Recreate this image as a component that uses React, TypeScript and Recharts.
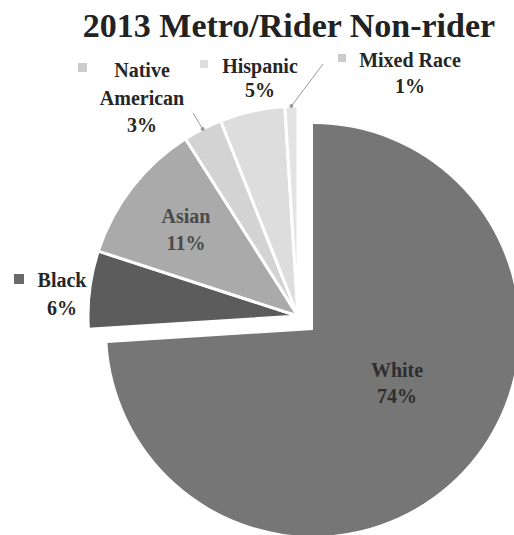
import React from 'react';
import { PieChart, Pie, Cell } from 'recharts';

// ---- data ----
const categories: string[] = ['White', 'Black', 'Asian', 'Native American', 'Hispanic', 'Mixed Race'];
const shares: number[] = [74, 6, 11, 3, 5, 1];
const pctLabels: string[] = ['74%', '6%', '11%', '3%', '5%', '1%'];
const titleText = '2013 Metro/Rider Non-rider';

// ---- styles ----
const fills: string[] = ['#767676', '#5c5c5c', '#aaaaaa', '#d3d3d3', '#dddddd', '#e3e3e3'];
const W = 514;
const H = 535;
const FONT = '"Liberation Serif", "Times New Roman", serif';

type LabelCfg = {
  x: number;
  lines: { text: string; y: number }[];
  marker?: { x: number; y: number; size: number; fill: string };
  leader?: { x: number; y: number };
  color: string;
};

const labelCfg: Record<string, LabelCfg> = {
  White: { x: 397, lines: [{ text: 'White', y: 377 }, { text: '74%', y: 403 }], color: '#2e2e2e' },
  Asian: { x: 186, lines: [{ text: 'Asian', y: 223 }, { text: '11%', y: 250 }], color: '#4a4a4a' },
  Black: {
    x: 62,
    lines: [{ text: 'Black', y: 287 }, { text: '6%', y: 315 }],
    marker: { x: 14, y: 274, size: 10, fill: '#6a6a6a' },
    color: '#262626',
  },
  'Native American': {
    x: 142,
    lines: [{ text: 'Native', y: 77 }, { text: 'American', y: 105 }, { text: '3%', y: 132 }],
    marker: { x: 78, y: 63, size: 9, fill: '#cccccc' },
    leader: { x: 193, y: 113 },
    color: '#262626',
  },
  Hispanic: {
    x: 260,
    lines: [{ text: 'Hispanic', y: 73 }, { text: '5%', y: 97 }],
    marker: { x: 200, y: 60, size: 8, fill: '#dddddd' },
    color: '#262626',
  },
  'Mixed Race': {
    x: 410,
    lines: [{ text: 'Mixed Race', y: 67 }, { text: '1%', y: 93 }],
    marker: { x: 338, y: 54, size: 8, fill: '#cccccc' },
    leader: { x: 323, y: 64 },
    color: '#262626',
  },
};

const data = categories.map((name, i) => ({ name, value: shares[i], pct: pctLabels[i] }));

const RAD = Math.PI / 180;

const makeLabel = (allowed: (name: string) => boolean) => (props: any) => {
  const { index, cx, cy, midAngle, outerRadius } = props;
  const name = categories[index];
  if (!allowed(name)) return null;
  const cfg = labelCfg[name];
  if (!cfg) return null;
  const ex = cx + outerRadius * Math.cos(-midAngle * RAD);
  const ey = cy + outerRadius * Math.sin(-midAngle * RAD);
  return (
    <g key={`lbl-${name}`}>
      {cfg.leader && (
        <g>
          <line x1={cfg.leader.x} y1={cfg.leader.y} x2={ex} y2={ey} stroke="#9a9a9a" strokeWidth={1} />
          <circle cx={ex} cy={ey} r={2} fill="#9a9a9a" />
        </g>
      )}
      {cfg.marker && (
        <rect
          x={cfg.marker.x}
          y={cfg.marker.y}
          width={cfg.marker.size}
          height={cfg.marker.size}
          fill={cfg.marker.fill}
        />
      )}
      {cfg.lines.map((ln, k) => (
        <text
          key={k}
          x={cfg.x}
          y={ln.y}
          textAnchor="middle"
          fontFamily={FONT}
          fontWeight="bold"
          fontSize={20}
          fill={cfg.color}
        >
          {ln.text}
        </text>
      ))}
    </g>
  );
};

export default function App() {
  return (
    <div style={{ position: 'absolute', left: 0, top: 0, width: W, height: H, background: '#ffffff' }}>
      <PieChart width={W} height={H} margin={{ top: 0, right: 0, bottom: 0, left: 0 }}>
        {/* White slice, drawn from its own (offset) centre */}
        <Pie
          data={data}
          dataKey="value"
          nameKey="name"
          cx={313}
          cy={330}
          outerRadius={206}
          startAngle={90}
          endAngle={-270}
          stroke="none"
          isAnimationActive={false}
          labelLine={false}
          label={makeLabel((n) => n === 'White')}
        >
          {data.map((d, i) => (
            <Cell key={d.name} fill={d.name === 'White' ? fills[i] : 'none'} stroke="none" />
          ))}
        </Pie>
        {/* the remaining slices, pulled out towards the upper left */}
        <Pie
          data={data}
          dataKey="value"
          nameKey="name"
          cx={298}
          cy={316}
          outerRadius={210}
          startAngle={90}
          endAngle={-270}
          isAnimationActive={false}
          labelLine={false}
          label={makeLabel((n) => n !== 'White')}
        >
          {data.map((d, i) => (
            <Cell
              key={d.name}
              fill={d.name === 'White' ? 'none' : fills[i]}
              stroke={d.name === 'White' ? 'none' : '#ffffff'}
              strokeWidth={3}
            />
          ))}
        </Pie>
      </PieChart>
      <svg
        width={W}
        height={60}
        style={{ position: 'absolute', left: 0, top: 0, pointerEvents: 'none' }}
      >
        <text
          x={289}
          y={37}
          textAnchor="middle"
          fontFamily={FONT}
          fontWeight="bold"
          fontSize={34}
          fill="#222222"
        >
          {titleText}
        </text>
      </svg>
    </div>
  );
}
